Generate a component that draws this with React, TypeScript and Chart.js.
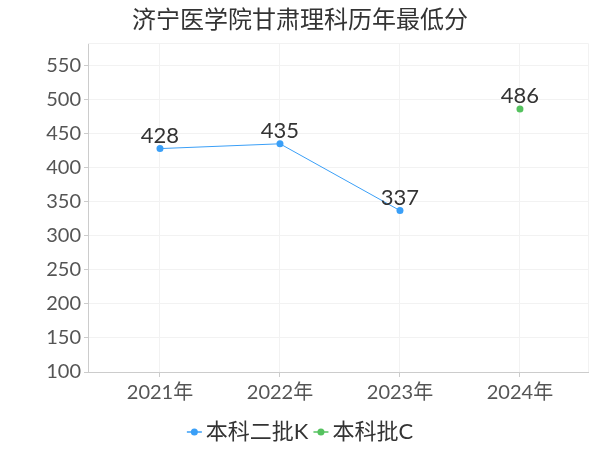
import React, { useEffect, useRef } from "react";
import { Chart, registerables } from "chart.js";

Chart.register(...registerables);

const titleText = "济宁医学院甘肃理科历年最低分";
const categories = ["2021年", "2022年", "2023年", "2024年"];
const seriesNames = ["本科二批K", "本科批C"];
const seriesBlue = [428, 435, 337, null];
const seriesGreen = [null, null, null, 486];
const seriesColors = ["#3a9ff7", "#55c25f"];
const yTicks = [100, 150, 200, 250, 300, 350, 400, 450, 500, 550];

const FONT = "Lato, 'Noto Sans CJK SC', sans-serif";

const toPoints = (arr: (number | null)[]) =>
  arr.map((v, i) => ({ x: i, y: v }));

export default function App() {
  const ref = useRef<HTMLCanvasElement | null>(null);
  useEffect(() => {
    document.body.style.margin = "0";
    const canvas = ref.current!;
    const titlePlugin = {
      id: "customTitle",
      afterDraw(chart: any) {
        const ctx = chart.ctx;
        ctx.save();
        ctx.font = `24px ${FONT}`;
        ctx.fillStyle = "#333";
        ctx.textAlign = "center";
        ctx.textBaseline = "middle";
        ctx.fillText(titleText, 300, 20);
        ctx.restore();
      },
    };
    const framePlugin = {
      id: "frame",
      beforeDatasetsDraw(chart: any) {
        const { ctx, chartArea } = chart;
        ctx.save();
        ctx.strokeStyle = "#f2f2f2";
        ctx.lineWidth = 1;
        ctx.beginPath();
        ctx.moveTo(chartArea.left, chartArea.top + 0.5);
        ctx.lineTo(chartArea.right + 0.5, chartArea.top + 0.5);
        ctx.lineTo(chartArea.right + 0.5, chartArea.bottom);
        ctx.stroke();
        ctx.restore();
      },
    };
    const labelPlugin = {
      id: "valueLabels",
      afterDatasetsDraw(chart: any) {
        const ctx = chart.ctx;
        ctx.save();
        ctx.font = `22px ${FONT}`;
        ctx.fillStyle = "#333";
        ctx.textAlign = "center";
        ctx.textBaseline = "alphabetic";
        chart.data.datasets.forEach((ds: any, di: number) => {
          const meta = chart.getDatasetMeta(di);
          meta.data.forEach((pt: any, i: number) => {
            const v = ds.data[i].y;
            if (v == null) return;
            ctx.fillText(String(v), pt.x, pt.y - 6);
          });
        });
        ctx.restore();
      },
    };
    const legendPlugin = {
      id: "customLegend",
      afterDraw(chart: any) {
        const ctx = chart.ctx;
        ctx.save();
        ctx.font = `22px ${FONT}`;
        ctx.textBaseline = "middle";
        const y = 432;
        const markW = 15;
        const gapText = 4;
        const gapItem = 5;
        const widths = seriesNames.map((n) => markW + gapText + ctx.measureText(n).width);
        const total = widths.reduce((a, b) => a + b, 0) + gapItem * (seriesNames.length - 1);
        let x = 300 - total / 2;
        seriesNames.forEach((n, i) => {
          ctx.strokeStyle = seriesColors[i];
          ctx.fillStyle = seriesColors[i];
          ctx.lineWidth = 1.5;
          ctx.beginPath();
          ctx.moveTo(x, y);
          ctx.lineTo(x + markW, y);
          ctx.stroke();
          ctx.beginPath();
          ctx.arc(x + markW / 2, y, 3.5, 0, Math.PI * 2);
          ctx.fill();
          ctx.fillStyle = "#333";
          ctx.textAlign = "left";
          ctx.fillText(n, x + markW + gapText, y);
          x += widths[i] + gapItem;
        });
        ctx.restore();
      },
    };
    const chart = new Chart(canvas, {
      type: "line",
      data: {
        datasets: [
          {
            label: seriesNames[0],
            data: toPoints(seriesBlue) as any,
            borderColor: seriesColors[0],
            backgroundColor: seriesColors[0],
            borderWidth: 1,
            pointRadius: 3.5,
            pointBorderWidth: 0,
            spanGaps: false,
          },
          {
            label: seriesNames[1],
            data: toPoints(seriesGreen) as any,
            borderColor: seriesColors[1],
            backgroundColor: seriesColors[1],
            borderWidth: 1,
            pointRadius: 3.5,
            pointBorderWidth: 0,
          },
        ],
      },
      options: {
        animation: false,
        responsive: false,
        layout: { padding: { top: 43, right: 12, bottom: 0, left: 0 } },
        plugins: {
          legend: { display: false },
          title: { display: false },
          tooltip: { enabled: false },
        },
        scales: {
          x: {
            type: "linear",
            min: -0.6,
            max: 3.567,
            afterBuildTicks(scale: any) {
              scale.ticks = categories.map((_, i) => ({ value: i }));
            },
            afterFit(scale: any) {
              scale.height = 78;
            },
            ticks: {
              callback: (v: any) => categories[v] ?? "",
              font: { size: 20, family: FONT },
              color: "#555",
              padding: 4,
              maxRotation: 0,
              autoSkip: false,
            },
            grid: { color: "#f2f2f2", tickColor: "#ccc", tickLength: 5, drawTicks: true },
            border: { color: "#ccc" },
          },
          y: {
            min: 100,
            max: 583,
            afterBuildTicks(scale: any) {
              scale.ticks = yTicks.map((v) => ({ value: v }));
            },
            afterFit(scale: any) {
              scale.width = 88;
            },
            ticks: {
              font: { size: 20, family: FONT },
              color: "#555",
              padding: 3,
            },
            grid: { color: "#f2f2f2", tickColor: "#ccc", tickLength: 4 },
            border: { color: "#ccc" },
          },
        },
      },
      plugins: [framePlugin, labelPlugin, titlePlugin, legendPlugin],
    });
    return () => chart.destroy();
  }, []);
  return (
    <div style={{ position: "absolute", left: 0, top: 0, width: 600, height: 450 }}>
      <canvas ref={ref} width={600} height={450} />
    </div>
  );
}
